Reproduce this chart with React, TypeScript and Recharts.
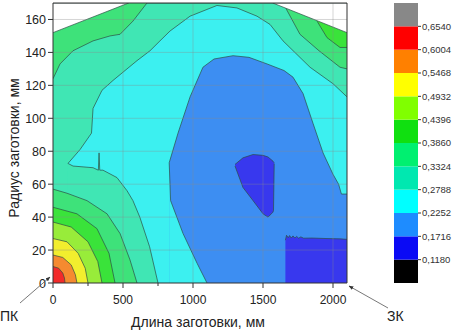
import React from 'react';
import { ComposedChart, Area, XAxis, YAxis, ReferenceLine, BarChart, Bar } from 'recharts';

// contour boundaries: [length mm, radius mm]
const aquaTop = [[0, 124], [50, 133], [143, 141], [286, 147], [407, 150], [479, 151], [571, 159], [671, 170], [1643, 170], [1764, 151], [1900, 141], [2050, 131], [2100, 130]];
const greenPocket = [[1886, 159, 170], [1957, 149, 170], [2050, 143, 170], [2100, 143, 170]];
const cyanTop = [[107, 72.6], [193, 81], [275, 91], [286, 106], [350, 117], [429, 123], [600, 135], [693, 141], [764, 147], [836, 153], [979, 162], [1171, 168.5], [1314, 167], [1457, 162], [1550, 157], [1643, 147], [1836, 131], [2000, 121], [2100, 113]];
const cyanBottom = [[107, 72.6], [143, 71], [286, 70], [324, 68.5], [329, 79], [334, 68.5], [357, 68.5], [457, 64], [529, 56], [571, 50], [620, 40], [690, 22], [750, 0]];
const blueTop = [[830, 73], [893, 91], [979, 113], [1071, 131], [1150, 136], [1286, 138], [1400, 137], [1529, 133], [1650, 129], [1714, 125], [1786, 115], [1857, 97], [1929, 79], [2000, 66], [2040, 60], [2060, 54], [2100, 54]];
const blueLeft = [[830, 73], [840, 50], [929, 30], [1029, 12], [1100, 0]];
const darkBlob = [[1300, 71, 72], [1357, 58, 76], [1429, 50, 78], [1500, 42, 77.5], [1536, 40, 76.5], [1571, 43, 74], [1575, 44, 73.5], [1580, 72.5, 73]];
const darkCorner = [[1660, 26], [1668, 29], [1680, 27.5], [1690, 28.8], [1702, 27.3], [1714, 28.6], [1728, 27.3], [1740, 28.3], [1755, 27.2], [1770, 28], [1790, 27.2], [1850, 27.3], [1950, 27], [2050, 26.8], [2100, 26.5]];
const springArc = [[0, 57], [100, 54.5], [243, 50], [386, 42], [479, 30], [550, 14], [600, 0]];
const greenArc = [[0, 46], [171, 42], [314, 33], [400, 18], [443, 0]];
const ygArc = [[0, 37], [130, 34], [250, 25], [320, 13], [350, 0]];
const yellowArc = [[0, 27], [100, 25], [180, 18], [230, 9], [250, 0]];
const orangeArc = [[0, 17], [70, 15.5], [130, 11], [160, 5], [171, 0]];
const redArc = [[0, 10], [40, 9], [70, 6], [82, 3], [86, 0]];
const whiteLeft = [[0, 152, 170], [540, 170, 170]];
const whiteRight = [[1570, 170, 170], [2100, 152, 170]];
const fullField = [[0, 170], [2100, 170]];

const xTicks = [0, 250, 500, 750, 1000, 1250, 1500, 1750, 2000];
const yTicks = [0, 10, 20, 30, 40, 50, 60, 70, 80, 90, 100, 110, 120, 130, 140, 150, 160];
const xGrid = [500, 1000, 1500, 2000];
const yGrid = [20, 40, 60, 80, 100, 120, 140, 160];

const levels = ['0,1180', '0,1716', '0,2252', '0,2788', '0,3324', '0,3860', '0,4396', '0,4932', '0,5468', '0,6004', '0,6540'];
const barColors = ['#000000', '#0a0af5', '#1e8cff', '#00ffff', '#00e8b0', '#00f070', '#10e010', '#80ff00', '#ffff00', '#ff8000', '#ff0000', '#888888'];

const FONT = '"Liberation Sans", Arial, sans-serif';
const LINE = '#2d4d45';

const pts = (a: number[][]) => a.map(p => ({ x: p[0], y: p[1] }));
const rng = (a: number[][]) => a.map(p => ({ x: p[0], y: [p[1], p[2]] }));

const XTick = ({ x, y, payload }: any) => {
  const v = payload.value;
  const major = v % 500 === 0;
  return (
    <g>
      <line x1={x} y1={y} x2={x} y2={y + (major ? 5 : 3)} stroke="#333" />
      {major && <text x={x} y={y + 21} textAnchor="middle" fontSize={12} fill="#222" fontFamily={FONT}>{v}</text>}
    </g>
  );
};

const YTick = ({ x, y, payload }: any) => {
  const v = payload.value;
  const major = v % 20 === 0;
  return (
    <g>
      <line x1={x} y1={y} x2={x - (major ? 5 : 3)} y2={y} stroke="#333" />
      {major && <text x={x - 7} y={y + 4.5} textAnchor="end" fontSize={12.5} fill="#222" fontFamily={FONT}>{v}</text>}
    </g>
  );
};

const field = (key: string, data: any[], fill: string, stroke = LINE) => (
  <Area key={key} data={data} dataKey="y" type="linear" fill={fill} fillOpacity={1}
    stroke={stroke} strokeWidth={0.7} dot={false} activeDot={false} isAnimationActive={false} />
);

export default function App() {
  const cbRow: any = { name: 'cb' };
  barColors.forEach((c, i) => { cbRow['b' + i] = 1; });

  return (
    <div style={{ position: 'absolute', left: 0, top: 0, width: 458, height: 330, background: '#fff' }}>
      <ComposedChart width={458} height={330} margin={{ top: 3, right: 111, bottom: 17, left: 13 }}>
        <XAxis dataKey="x" type="number" domain={[0, 2100]} ticks={xTicks} allowDataOverflow
          height={30} tickSize={0} tickMargin={0} tickLine={false} tick={<XTick />} axisLine={{ stroke: '#333' }} />
        <YAxis type="number" domain={[0, 170]} ticks={yTicks} allowDataOverflow
          width={40} tickSize={0} tickMargin={0} tickLine={false} tick={<YTick />} axisLine={{ stroke: '#333' }} />
        {field('base', pts(fullField), '#3ee27a', 'none')}
        {field('pocket', rng(greenPocket), '#3ae33a')}
        {field('aqua', pts(aquaTop), '#40e6b4')}
        {field('cyan', pts(cyanTop), '#3cf0f0')}
        {field('aqua2', pts(cyanBottom), '#40e6b4')}
        {field('blue', pts(blueTop), '#3d8ef2')}
        {field('cyan2', pts(blueLeft), '#3cf0f0')}
        {field('blob', rng(darkBlob), '#3838ee')}
        {field('corner', pts(darkCorner), '#3838ee')}
        {field('spring', pts(springArc), '#3ee27a')}
        {field('green', pts(greenArc), '#3ae33a')}
        {field('yg', pts(ygArc), '#98ec3a')}
        {field('yellow', pts(yellowArc), '#f2ee2e')}
        {field('orange', pts(orangeArc), '#f58a30')}
        {field('red', pts(redArc), '#f22a2a')}
        {field('whiteL', rng(whiteLeft), '#ffffff')}
        {field('whiteR', rng(whiteRight), '#ffffff')}
        {xGrid.map(v => <ReferenceLine key={'gx' + v} x={v} stroke="#888" strokeOpacity={0.45} strokeWidth={0.8} />)}
        {yGrid.map(v => <ReferenceLine key={'gy' + v} y={v} stroke="#888" strokeOpacity={0.45} strokeWidth={0.8} />)}
        <ReferenceLine y={170} stroke="#333" />
        <ReferenceLine x={2100} stroke="#333" />
      </ComposedChart>

      <div style={{ position: 'absolute', left: 394, top: 0 }}>
        <BarChart width={74} height={330} data={[cbRow]} margin={{ top: 3, right: 0, bottom: 47, left: 0 }} barCategoryGap={0}>
          <XAxis dataKey="name" hide />
          <YAxis orientation="right" type="number" domain={[0, 12]} ticks={[1, 2, 3, 4, 5, 6, 7, 8, 9, 10, 11]}
            tickFormatter={(v: number) => levels[v - 1]} width={50} axisLine={false} tickSize={3} tickMargin={1}
            tickLine={{ stroke: '#333' }} tick={{ fontSize: 9.5, fill: '#333', fontFamily: FONT }} />
          {barColors.map((c, i) => (
            <Bar key={i} dataKey={'b' + i} stackId="cb" fill={c} isAnimationActive={false} />
          ))}
        </BarChart>
      </div>

      <svg width={458} height={330} style={{ position: 'absolute', left: 0, top: 0, pointerEvents: 'none' }}>
        <defs>
          <marker id="ah" viewBox="0 0 10 10" refX="9" refY="5" markerWidth="6" markerHeight="6" orient="auto">
            <path d="M0,1 L10,5 L0,9 z" fill="#333" />
          </marker>
        </defs>
        <line x1={20} y1={303} x2={50} y2={277} stroke="#555" strokeWidth={0.8} markerEnd="url(#ah)" />
        <line x1={388} y1={308} x2={349} y2={286} stroke="#555" strokeWidth={0.8} markerEnd="url(#ah)" />
        <text x={0} y={321} fontSize={14} fill="#222" fontFamily={FONT}>ПК</text>
        <text x={387} y={321} fontSize={14} fill="#222" fontFamily={FONT}>ЗК</text>
        <text x={198} y={327} fontSize={14} fill="#222" fontFamily={FONT} textAnchor="middle">Длина заготовки, мм</text>
        <text x={0} y={0} transform="translate(18.5,148) rotate(-90)" fontSize={14} fill="#222" fontFamily={FONT} textAnchor="middle">Радиус заготовки, мм</text>
      </svg>
    </div>
  );
}
